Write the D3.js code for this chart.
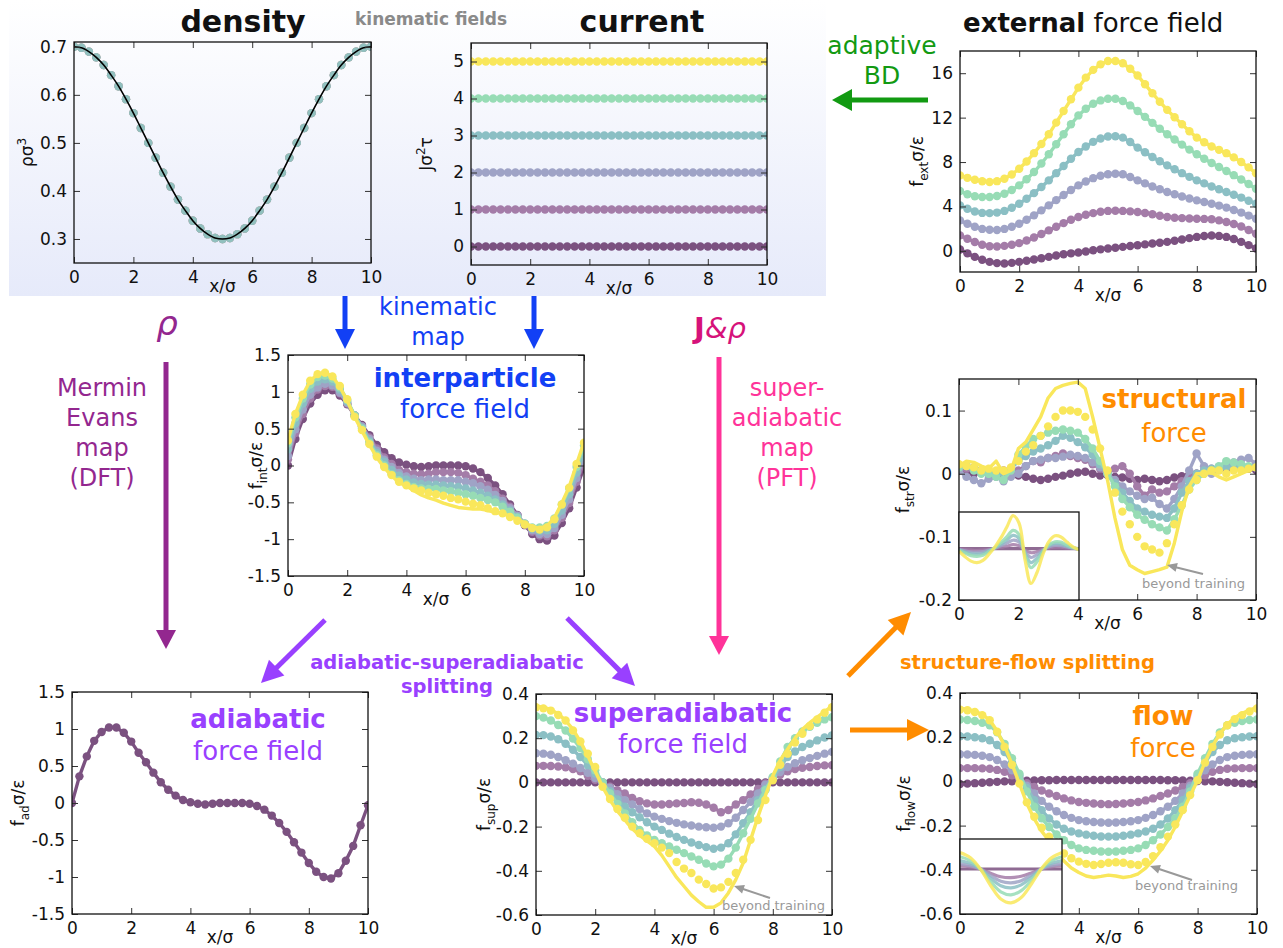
<!DOCTYPE html>
<html><head><meta charset="utf-8">
<script src="https://cdn.jsdelivr.net/npm/d3@7"></script>
<style>body{margin:0;background:#fff}svg{display:block}text{font-family:"DejaVu Sans",sans-serif}</style>
</head><body><svg id="c" width="1283" height="948"></svg>
<script>
// ---------------- DATA ----------------
const xGrid = [0,0.25,0.5,0.75,1,1.25,1.5,1.75,2,2.25,2.5,2.75,3,3.25,3.5,3.75,4,4.25,4.5,4.75,5,5.25,5.5,5.75,6,6.25,6.5,6.75,7,7.25,7.5,7.75,8,8.25,8.5,8.75,9,9.25,9.5,9.75,10];
const xTicks = [0,2,4,6,8,10];
const densityProfile = [0.700,0.698,0.690,0.678,0.662,0.641,0.618,0.591,0.562,0.531,0.500,0.469,0.438,0.409,0.382,0.359,0.338,0.322,0.310,0.302,0.300,0.302,0.310,0.322,0.338,0.359,0.382,0.409,0.438,0.469,0.500,0.531,0.562,0.591,0.618,0.641,0.662,0.678,0.690,0.698,0.700];
const currentLevels = [0,1,2,3,4,5];

const ext0 = [0.12,-0.22,-0.54,-0.80,-0.99,-1.10,-1.14,-1.08,-0.99,-0.89,-0.78,-0.66,-0.54,-0.42,-0.30,-0.22,-0.15,-0.05,0.06,0.14,0.21,0.29,0.36,0.44,0.51,0.59,0.66,0.73,0.81,0.91,1.02,1.15,1.26,1.34,1.38,1.35,1.26,1.07,0.81,0.52,0.21];
const ext1 = [1.40,1.10,0.80,0.55,0.42,0.40,0.45,0.55,0.70,0.93,1.20,1.52,1.85,2.18,2.50,2.80,3.05,3.25,3.40,3.52,3.60,3.62,3.60,3.56,3.50,3.41,3.30,3.17,3.05,2.99,2.95,2.92,2.90,2.88,2.85,2.75,2.60,2.42,2.20,1.88,1.55];
const ext2 = [2.75,2.45,2.18,1.98,1.90,1.88,1.98,2.18,2.45,2.80,3.20,3.65,4.10,4.57,5.03,5.48,5.90,6.25,6.55,6.77,6.90,6.95,6.90,6.65,6.35,6.08,5.80,5.55,5.30,5.10,4.90,4.72,4.55,4.40,4.25,4.08,3.90,3.68,3.45,3.18,2.90];
const ext3 = [4.10,3.80,3.55,3.42,3.40,3.45,3.60,3.88,4.25,4.70,5.20,5.75,6.35,7.00,7.65,8.30,8.90,9.40,9.82,10.12,10.30,10.32,10.20,9.80,9.30,8.88,8.45,8.07,7.70,7.35,7.00,6.67,6.35,6.08,5.80,5.55,5.30,5.05,4.80,4.52,4.25];
const ext4 = [5.40,5.10,4.92,4.85,4.85,4.95,5.15,5.48,5.90,6.45,7.10,7.87,8.70,9.60,10.50,11.40,12.20,12.80,13.25,13.55,13.70,13.70,13.50,13.10,12.60,12.07,11.53,11.00,10.50,10.03,9.57,9.12,8.70,8.30,7.92,7.55,7.20,6.82,6.43,6.02,5.60];
const ext5 = [6.80,6.58,6.40,6.27,6.20,6.28,6.50,6.88,7.40,8.05,8.80,9.62,10.50,11.55,12.60,13.65,14.70,15.60,16.30,16.80,17.10,17.10,16.90,16.40,15.80,15.00,14.20,13.43,12.70,12.03,11.40,10.78,10.20,9.78,9.40,9.10,8.80,8.42,8.00,7.52,7.00];

const fAd = [0.00,0.36,0.63,0.84,0.96,1.02,1.02,0.95,0.83,0.68,0.55,0.41,0.28,0.18,0.10,0.04,0.01,-0.01,-0.02,-0.01,0.00,0.00,0.00,0.00,-0.01,-0.04,-0.09,-0.17,-0.27,-0.39,-0.53,-0.67,-0.81,-0.93,-1.00,-1.02,-0.95,-0.78,-0.58,-0.30,-0.03];

const int1 = [0.08,0.44,0.70,0.91,1.03,1.08,1.07,0.98,0.84,0.68,0.53,0.38,0.23,0.11,0.02,-0.06,-0.09,-0.11,-0.12,-0.11,-0.09,-0.09,-0.09,-0.10,-0.13,-0.18,-0.22,-0.27,-0.35,-0.45,-0.56,-0.68,-0.80,-0.90,-0.95,-0.96,-0.88,-0.71,-0.51,-0.22,0.05];
const int2 = [0.13,0.49,0.76,0.96,1.06,1.11,1.09,0.99,0.85,0.68,0.53,0.36,0.20,0.08,-0.02,-0.10,-0.15,-0.18,-0.20,-0.19,-0.19,-0.20,-0.20,-0.20,-0.22,-0.24,-0.28,-0.33,-0.40,-0.48,-0.58,-0.68,-0.79,-0.88,-0.93,-0.93,-0.85,-0.67,-0.46,-0.17,0.11];
const int3 = [0.22,0.57,0.84,1.04,1.14,1.17,1.14,1.03,0.87,0.68,0.51,0.33,0.17,0.05,-0.06,-0.14,-0.19,-0.23,-0.25,-0.26,-0.26,-0.27,-0.28,-0.29,-0.31,-0.34,-0.37,-0.41,-0.46,-0.53,-0.61,-0.70,-0.79,-0.86,-0.89,-0.88,-0.79,-0.61,-0.39,-0.10,0.18];
const int4 = [0.30,0.65,0.91,1.10,1.20,1.22,1.18,1.06,0.89,0.68,0.50,0.31,0.14,0.00,-0.12,-0.20,-0.25,-0.29,-0.31,-0.32,-0.32,-0.34,-0.35,-0.37,-0.39,-0.41,-0.44,-0.47,-0.50,-0.56,-0.63,-0.71,-0.79,-0.84,-0.84,-0.82,-0.72,-0.53,-0.31,-0.02,0.27];
const int5Dots = [0.34,0.70,0.96,1.15,1.24,1.26,1.21,1.08,0.90,0.66,0.48,0.29,0.12,-0.02,-0.13,-0.22,-0.27,-0.31,-0.34,-0.37,-0.39,-0.41,-0.44,-0.46,-0.49,-0.52,-0.54,-0.58,-0.62,-0.65,-0.70,-0.75,-0.80,-0.85,-0.87,-0.84,-0.73,-0.53,-0.30,0.02,0.31];
const int5Line = [0.35,0.70,0.96,1.15,1.24,1.26,1.21,1.07,0.88,0.66,0.47,0.28,0.11,-0.03,-0.14,-0.23,-0.28,-0.34,-0.40,-0.44,-0.47,-0.51,-0.54,-0.57,-0.58,-0.59,-0.59,-0.61,-0.64,-0.65,-0.69,-0.73,-0.78,-0.83,-0.85,-0.82,-0.71,-0.51,-0.29,0.02,0.32];

const sup0 = [0,0,0,0,0,0,0,0,0,0,0,0,0,0,0,0,0,0,0,0,0,0,0,0,0,0,0,0,0,0,0,0,0,0,0,0,0,0,0,0,0];
const sup1 = [0.075,0.075,0.074,0.072,0.068,0.06,0.05,0.03,0.012,-0.005,-0.02,-0.035,-0.05,-0.07,-0.085,-0.095,-0.10,-0.10,-0.098,-0.095,-0.093,-0.09,-0.092,-0.10,-0.115,-0.135,-0.125,-0.10,-0.08,-0.055,-0.03,-0.005,0.015,0.035,0.05,0.06,0.066,0.07,0.074,0.077,0.078];
const sup2 = [0.132,0.13,0.125,0.115,0.10,0.085,0.065,0.043,0.02,0,-0.025,-0.053,-0.08,-0.10,-0.12,-0.14,-0.155,-0.165,-0.175,-0.183,-0.19,-0.195,-0.20,-0.203,-0.205,-0.20,-0.185,-0.16,-0.125,-0.088,-0.05,-0.01,0.02,0.047,0.07,0.087,0.10,0.11,0.12,0.13,0.138];
const sup3 = [0.215,0.214,0.208,0.195,0.175,0.148,0.115,0.078,0.04,0,-0.04,-0.077,-0.11,-0.135,-0.158,-0.18,-0.20,-0.215,-0.232,-0.247,-0.26,-0.272,-0.283,-0.293,-0.30,-0.295,-0.275,-0.235,-0.185,-0.135,-0.08,-0.03,0.02,0.07,0.115,0.14,0.16,0.175,0.19,0.203,0.213];
const sup4 = [0.300,0.293,0.28,0.26,0.235,0.198,0.155,0.105,0.055,0,-0.05,-0.097,-0.14,-0.18,-0.215,-0.24,-0.26,-0.275,-0.29,-0.305,-0.32,-0.335,-0.35,-0.367,-0.38,-0.372,-0.345,-0.295,-0.23,-0.165,-0.095,-0.035,0.025,0.095,0.16,0.20,0.23,0.252,0.27,0.285,0.295];
const sup5Dots = [0.34,0.335,0.325,0.305,0.28,0.235,0.185,0.13,0.07,-0.02,-0.075,-0.12,-0.16,-0.20,-0.23,-0.255,-0.275,-0.295,-0.32,-0.36,-0.39,-0.41,-0.44,-0.46,-0.48,-0.475,-0.45,-0.41,-0.35,-0.26,-0.17,-0.08,0.01,0.08,0.13,0.18,0.22,0.255,0.285,0.315,0.34];
const sup5Line = [0.345,0.34,0.33,0.31,0.28,0.24,0.185,0.12,0.05,-0.02,-0.08,-0.13,-0.17,-0.21,-0.24,-0.265,-0.29,-0.33,-0.38,-0.43,-0.47,-0.51,-0.54,-0.565,-0.565,-0.545,-0.50,-0.44,-0.365,-0.26,-0.155,-0.06,0.03,0.10,0.15,0.20,0.24,0.27,0.295,0.32,0.345];

const flow0 = [-0.012,-0.01,-0.008,-0.006,-0.004,-0.002,0,0.001,0.002,0.003,0.004,0.005,0.005,0.006,0.006,0.006,0.006,0.006,0.006,0.006,0.006,0.006,0.006,0.006,0.006,0.006,0.006,0.006,0.005,0.005,0.004,0.003,0.002,0.001,0,-0.002,-0.004,-0.006,-0.008,-0.01,-0.012];
const flow1 = [0.060,0.060,0.060,0.059,0.057,0.052,0.043,0.028,0.010,-0.008,-0.025,-0.041,-0.055,-0.066,-0.077,-0.086,-0.093,-0.097,-0.100,-0.102,-0.103,-0.102,-0.100,-0.097,-0.093,-0.086,-0.077,-0.066,-0.055,-0.041,-0.025,-0.008,0.010,0.028,0.043,0.052,0.057,0.059,0.060,0.060,0.060];
const flow2 = [0.123,0.122,0.120,0.116,0.110,0.097,0.077,0.050,0.017,-0.020,-0.055,-0.088,-0.115,-0.135,-0.152,-0.165,-0.175,-0.180,-0.184,-0.186,-0.187,-0.186,-0.184,-0.180,-0.175,-0.165,-0.152,-0.135,-0.115,-0.088,-0.055,-0.020,0.017,0.050,0.077,0.097,0.110,0.116,0.120,0.122,0.123];
const flow3 = [0.204,0.203,0.200,0.195,0.186,0.165,0.133,0.085,0.028,-0.030,-0.085,-0.130,-0.168,-0.195,-0.214,-0.227,-0.235,-0.241,-0.246,-0.249,-0.250,-0.249,-0.246,-0.241,-0.235,-0.227,-0.214,-0.195,-0.168,-0.130,-0.085,-0.030,0.028,0.085,0.133,0.165,0.186,0.195,0.200,0.203,0.204];
const flow4 = [0.280,0.278,0.273,0.265,0.254,0.222,0.170,0.105,0.035,-0.045,-0.115,-0.167,-0.206,-0.240,-0.266,-0.288,-0.303,-0.310,-0.314,-0.317,-0.318,-0.317,-0.314,-0.310,-0.303,-0.288,-0.266,-0.240,-0.206,-0.167,-0.115,-0.045,0.035,0.105,0.170,0.222,0.254,0.265,0.273,0.278,0.280];
const flow5Dots = [0.325,0.322,0.314,0.300,0.277,0.225,0.156,0.075,-0.010,-0.095,-0.160,-0.210,-0.250,-0.292,-0.326,-0.348,-0.363,-0.373,-0.378,-0.374,-0.368,-0.366,-0.368,-0.375,-0.378,-0.365,-0.338,-0.298,-0.250,-0.195,-0.130,-0.062,0.005,0.085,0.156,0.212,0.254,0.282,0.300,0.316,0.330];
const flow5Line = [0.330,0.327,0.318,0.302,0.278,0.228,0.160,0.078,-0.010,-0.100,-0.170,-0.225,-0.270,-0.318,-0.360,-0.392,-0.412,-0.428,-0.435,-0.430,-0.424,-0.428,-0.435,-0.430,-0.418,-0.392,-0.356,-0.315,-0.266,-0.205,-0.135,-0.065,0.005,0.088,0.160,0.215,0.258,0.288,0.308,0.323,0.335];

const str0 = [0.005,0.003,0,0.004,0.002,0,-0.002,0,-0.003,-0.005,-0.008,-0.01,-0.008,-0.005,-0.003,0,0.002,0.003,0,-0.003,-0.002,-0.005,-0.006,-0.008,-0.01,-0.008,-0.01,-0.012,-0.01,-0.006,-0.004,-0.002,0,0.003,0.005,0.006,0.008,0.01,0.01,0.008,0.006];
const str1 = [0.01,0.008,0.01,0.005,0,0.003,0.005,0.002,0.005,0.012,0.02,0.018,0.025,0.028,0.032,0.028,0.025,0.022,0.015,0.008,0,0.008,0.012,0,-0.02,-0.035,-0.025,-0.03,-0.028,-0.02,-0.012,-0.005,0,0.005,0.008,0.01,0.012,0.01,0.012,0.01,0.01];
const str2 = [0.005,-0.005,-0.01,-0.015,-0.008,-0.005,-0.012,-0.005,0,0.012,0.02,0.022,0.025,0.025,0.027,0.03,0.028,0.025,0.018,0.01,0,-0.01,-0.02,-0.028,-0.035,-0.04,-0.038,-0.048,-0.055,-0.04,-0.02,0.005,0.032,0.012,0,0.008,0.015,0.018,0.022,0.025,0.015];
const str3 = [0.01,0.012,0.008,0.005,0,-0.003,0,0.008,0.02,0.028,0.035,0.04,0.045,0.052,0.06,0.057,0.05,0.042,0.03,0.015,0,-0.015,-0.03,-0.043,-0.055,-0.06,-0.065,-0.068,-0.07,-0.055,-0.03,-0.012,0,0.005,0.008,0.01,0.01,0.012,0.01,0.01,0.01];
const str4 = [0.01,0.012,0.005,0,0,-0.005,-0.01,0.005,0.03,0.043,0.055,0.06,0.065,0.068,0.07,0.068,0.065,0.055,0.04,0.02,0,-0.02,-0.04,-0.053,-0.065,-0.073,-0.08,-0.085,-0.09,-0.072,-0.05,-0.025,-0.01,0,0.005,0.012,0.02,0.018,0.015,0.012,0.01];
const str5Line = [0.012,0.02,0.018,0.012,0.008,0.02,0,0.005,0.04,0.05,0.07,0.09,0.12,0.135,0.14,0.143,0.145,0.135,0.09,0.04,-0.01,-0.07,-0.12,-0.145,-0.152,-0.158,-0.155,-0.152,-0.148,-0.11,-0.06,-0.02,0,0,0.002,-0.005,-0.01,-0.005,0,0.005,0.01];
const str5Dots = [0.015,0.012,0.01,0.005,0.008,0.005,0.005,0.01,0.02,0.035,0.045,0.06,0.075,0.09,0.1,0.1,0.098,0.09,0.07,0.04,0.005,-0.03,-0.06,-0.08,-0.1,-0.115,-0.12,-0.125,-0.11,-0.08,-0.05,-0.025,-0.01,0,0.005,0.005,0,0.005,0.005,0.008,0.01];

// insets
const strInsetT = [0,0.05,0.1,0.15,0.2,0.25,0.3,0.35,0.4,0.45,0.5,0.55,0.6,0.65,0.7,0.75,0.8,0.85,0.9,0.95,1];
const strInset0 = [0,0,0,0,0,0,0,0,0,0,0,0,0,0,0,0,0,0,0,0,0];
const strInset1 = [-0.01,-0.03,-0.04,-0.05,-0.04,-0.02,0.01,0.04,0.07,0.11,0.08,-0.04,-0.11,-0.08,-0.02,0.02,0.04,0.04,0.02,0.01,0];
const strInset2 = [-0.02,-0.06,-0.09,-0.1,-0.08,-0.04,0.01,0.08,0.15,0.23,0.18,-0.08,-0.24,-0.16,-0.04,0.05,0.09,0.08,0.05,0.01,-0.01];
const strInset3 = [-0.03,-0.09,-0.14,-0.15,-0.13,-0.06,0.02,0.12,0.24,0.36,0.28,-0.12,-0.38,-0.26,-0.06,0.08,0.14,0.13,0.07,0.02,-0.01];
const strInset4 = [-0.04,-0.12,-0.19,-0.21,-0.18,-0.08,0.03,0.17,0.33,0.5,0.39,-0.17,-0.52,-0.36,-0.08,0.11,0.19,0.18,0.1,0.03,-0.02];
const strInset5 = [-0.07,-0.22,-0.34,-0.38,-0.32,-0.15,0.05,0.3,0.6,0.9,0.7,-0.3,-0.95,-0.65,-0.15,0.2,0.35,0.32,0.18,0.05,-0.03];
const flowInsetT = [0,0.1,0.2,0.3,0.4,0.5,0.6,0.7,0.8,0.9,1];
const flowInset0 = [0,0,0,0,0,0,0,0,0,0,0];
const flowInset1 = [0.11,0.07,0,-0.14,-0.26,-0.29,-0.24,-0.13,0,0.07,0.11];
const flowInset2 = [0.18,0.12,0,-0.22,-0.41,-0.46,-0.39,-0.2,0.01,0.12,0.18];
const flowInset3 = [0.28,0.19,0,-0.31,-0.56,-0.63,-0.53,-0.28,0.01,0.19,0.28];
const flowInset4 = [0.41,0.28,0,-0.42,-0.76,-0.86,-0.72,-0.38,0.02,0.28,0.41];
const flowInset5 = [0.55,0.38,0,-0.55,-1.0,-1.13,-0.95,-0.5,0.02,0.38,0.55];

// ---------------- STYLE ----------------
const pal = ["#7b5180","#a47ca8","#9fa3c6","#8bbfc4","#97dcb5","#f9e75b"];
const densityDrawOrder = [5,0,1,2,4,3];
const C = {blue:"#1240f5", purple:"#93278f", pink:"#ff3399", magenta:"#d6127a", violet:"#9940ff", orange:"#ff8c00", green:"#129a12", gray:"#999"};

const svg = d3.select("#c");
const defs = svg.append("defs");
const grad = defs.append("linearGradient").attr("id","bg").attr("x1",0).attr("y1",0).attr("x2",0).attr("y2",1);
grad.append("stop").attr("offset","0%").attr("stop-color","#ffffff");
grad.append("stop").attr("offset","100%").attr("stop-color","#e6eafa");
svg.append("rect").attr("x",9).attr("y",0).attr("width",817).attr("height",296).attr("fill","url(#bg)");

function ylabel(t, main, sub, rest, sup) {
  t.append("tspan").text(main);
  if (sub) { t.append("tspan").attr("font-size",12).attr("dy",5).text(sub); t.append("tspan").attr("dy",-5).text(rest); }
  if (sup) { t.append("tspan").attr("font-size",12).attr("dy",-7).text(sup); if (rest && !sub) t.append("tspan").attr("dy",7).text(rest); }
}

function panel(p) {
  const x = d3.scaleLinear().domain([0,10]).range([p.l,p.r]);
  const y = d3.scaleLinear().domain(p.yd).range([p.b,p.t]);
  const id = "clip_"+p.name;
  defs.append("clipPath").attr("id",id).append("rect").attr("x",p.l).attr("y",p.t).attr("width",p.r-p.l).attr("height",p.b-p.t);
  const g = svg.append("g");
  const plot = g.append("g").attr("clip-path",`url(#${id})`);
  const line = d3.line().x(d=>x(d[0])).y(d=>y(d[1]));
  p.series.forEach((s,k)=>{
    const col = pal[s.c];
    if (s.line) plot.append("path").datum(xGrid.map((xv,i)=>[xv,s.line[i]])).attr("d",line)
      .attr("fill","none").attr("stroke",col).attr("stroke-width",3.4).attr("stroke-linejoin","round").attr("opacity",s.op||1);
    if (s.dots) plot.append("g").selectAll("circle").data(xGrid.map((xv,i)=>[xv,s.dots[i]])).join("circle")
      .attr("cx",d=>x(d[0])).attr("cy",d=>y(d[1])).attr("r",4.2).attr("fill",col).attr("opacity",s.op||1);
  });
  if (p.extra) p.extra(plot,x,y);
  const ax = (gen,tr)=>{ const a=g.append("g").attr("transform",tr).call(gen); a.select(".domain").remove();
    a.selectAll("line").attr("stroke","#333").attr("stroke-width",1);
    a.selectAll("text").attr("font-family","DejaVu Sans").attr("font-size",17).attr("fill","#111"); return a; };
  ax(d3.axisBottom(x).tickValues(xTicks).tickSizeInner(-6).tickSizeOuter(0).tickPadding(8).tickFormat(d=>String(d)),`translate(0,${p.b})`);
  ax(d3.axisTop(x).tickValues(xTicks).tickSizeInner(-6).tickSizeOuter(0).tickFormat(""),`translate(0,${p.t})`);
  ax(d3.axisLeft(y).tickValues(p.yt).tickSizeInner(-6).tickSizeOuter(0).tickPadding(7).tickFormat(p.fmt||(d=>String(d))),`translate(${p.l},0)`);
  ax(d3.axisRight(y).tickValues(p.yt).tickSizeInner(-6).tickSizeOuter(0).tickFormat(""),`translate(${p.r},0)`);
  g.append("rect").attr("x",p.l).attr("y",p.t).attr("width",p.r-p.l).attr("height",p.b-p.t)
    .attr("fill","none").attr("stroke","#111").attr("stroke-width",1.3);
  if (p.inset) p.inset(g);
  g.append("text").attr("x",(p.l+p.r)/2).attr("y",p.b+29).attr("text-anchor","middle").attr("font-size",17).attr("fill","#111").text("x/σ");
  const yl = g.append("text").attr("transform",`translate(${p.ylx},${(p.t+p.b)/2}) rotate(-90)`)
    .attr("text-anchor","middle").attr("font-size",17).attr("fill","#111");
  p.ylab(yl);
}

function mk(arrs, op){ return arrs.map((a,k)=>({c:k, line:a, dots:a, op:op})); }

// density
panel({name:"dens", l:74, r:371, t:42, b:263, yd:[0.25,0.71], yt:[0.3,0.4,0.5,0.6,0.7], fmt:d3.format(".1f"), ylx:33,
  series: densityDrawOrder.map(k=>({c:k, dots:densityProfile, op:0.6})),
  extra:(plot,x,y)=>{ plot.append("path").datum(xGrid.map((xv,i)=>[xv,densityProfile[i]]))
     .attr("d",d3.line().x(d=>x(d[0])).y(d=>y(d[1])).curve(d3.curveMonotoneX)).attr("fill","none").attr("stroke","#000").attr("stroke-width",1.6); },
  ylab:t=>ylabel(t,"ρσ",null,null,"3")});
// current
panel({name:"cur", l:471, r:767, t:43, b:265, yd:[-0.5,5.5], yt:[0,1,2,3,4,5], ylx:432,
  series: currentLevels.map((lv,k)=>{ const arr = xGrid.map(()=>lv); return {c:k, line:arr, dots:arr}; }),
  ylab:t=>ylabel(t,"Jσ",null,"τ","2")});
// external
panel({name:"ext", l:960, r:1256, t:51, b:272, yd:[-1.9,18], yt:[0,4,8,12,16], ylx:923,
  series: mk([ext0,ext1,ext2,ext3,ext4,ext5]),
  ylab:t=>ylabel(t,"f","ext","σ/ε")});
// interparticle
panel({name:"int", l:288, r:584, t:355, b:576, yd:[-1.5,1.5], yt:[-1.5,-1,-0.5,0,0.5,1,1.5], ylx:262,
  series: [...mk([fAd,int1,int2,int3,int4]), {c:5, line:int5Line, dots:int5Dots}],
  ylab:t=>ylabel(t,"f","int","σ/ε")});
// adiabatic
panel({name:"ad", l:72, r:368, t:692, b:914, yd:[-1.5,1.5], yt:[-1.5,-1,-0.5,0,0.5,1,1.5], ylx:24,
  series: [{c:0, line:fAd, dots:fAd}],
  ylab:t=>ylabel(t,"f","ad","σ/ε")});
// superadiabatic
panel({name:"sup", l:536, r:832, t:694, b:915, yd:[-0.6,0.4], yt:[-0.6,-0.4,-0.2,0,0.2,0.4], ylx:490,
  series: [...mk([sup0,sup1,sup2,sup3,sup4]), {c:5, line:sup5Line, dots:sup5Dots}],
  ylab:t=>ylabel(t,"f","sup","σ/ε")});

function insetLines(g, box, tArr, arrs, yd){
  const ix = d3.scaleLinear().domain([0,1]).range([box.l,box.r]);
  const iy = d3.scaleLinear().domain(yd).range([box.b,box.t]);
  g.append("rect").attr("x",box.l).attr("y",box.t).attr("width",box.r-box.l).attr("height",box.b-box.t).attr("fill","#fff");
  const cid = "ic"+box.l;
  defs.append("clipPath").attr("id",cid).append("rect").attr("x",box.l).attr("y",box.t).attr("width",box.r-box.l).attr("height",box.b-box.t);
  const ig = g.append("g").attr("clip-path",`url(#${cid})`);
  const ln = d3.line().x(d=>ix(d[0])).y(d=>iy(d[1])).curve(d3.curveCatmullRom);
  arrs.forEach((a,k)=>ig.append("path").datum(tArr.map((t,i)=>[t,a[i]])).attr("d",ln).attr("fill","none")
    .attr("stroke",pal[k]).attr("stroke-width",3.2).attr("opacity",0.85));
  g.append("rect").attr("x",box.l).attr("y",box.t).attr("width",box.r-box.l).attr("height",box.b-box.t).attr("fill","none").attr("stroke","#111").attr("stroke-width",1.3);
}

// structural
panel({name:"str", l:959, r:1256, t:379, b:600, yd:[-0.2,0.15], yt:[-0.2,-0.1,0,0.1], ylx:909,
  series: [...mk([str0,str1,str2,str3,str4]), {c:5, line:str5Line, dots:str5Dots}],
  inset:g=>insetLines(g,{l:959,r:1079,t:512,b:600},strInsetT,[strInset0,strInset1,strInset2,strInset3,strInset4,strInset5],[-1.4,1]),
  ylab:t=>ylabel(t,"f","str","σ/ε")});
// flow
panel({name:"flow", l:960, r:1257, t:693, b:914, yd:[-0.6,0.4], yt:[-0.6,-0.4,-0.2,0,0.2,0.4], ylx:910,
  series: [...mk([flow0,flow1,flow2,flow3,flow4]), {c:5, line:flow5Line, dots:flow5Dots}],
  inset:g=>insetLines(g,{l:960,r:1062,t:839,b:914},flowInsetT,[flowInset0,flowInset1,flowInset2,flowInset3,flowInset4,flowInset5],[-1.5,1]),
  ylab:t=>ylabel(t,"f","flow","σ/ε")});

// ---------------- ARROWS ----------------
function arrow(x1,y1,x2,y2,col,w,hl,hw){
  const dx=x2-x1, dy=y2-y1, L=Math.hypot(dx,dy), ux=dx/L, uy=dy/L;
  const bx=x2-ux*hl, by=y2-uy*hl;
  svg.append("line").attr("x1",x1).attr("y1",y1).attr("x2",bx+ux*2).attr("y2",by+uy*2).attr("stroke",col).attr("stroke-width",w);
  svg.append("path").attr("d",`M${x2},${y2}L${bx-uy*hw/2},${by+ux*hw/2}L${bx+uy*hw/2},${by-ux*hw/2}Z`).attr("fill",col);
}
arrow(928,100,832,100,C.green,5,20,22);
arrow(345,296,345,349,C.blue,5,20,20);
arrow(534,296,534,349,C.blue,5,20,20);
arrow(166,362,166,649,C.purple,5,19,20);
arrow(719,357,719,655,C.pink,5,19,20);
arrow(325,620,261,683,C.violet,5,22,22);
arrow(567,618,635,686,C.violet,5,22,22);
arrow(848,676,911,612,C.orange,5,22,22);
arrow(850,730,929,730,C.orange,5,22,22);
arrow(1203,574,1167,565,"#999",2,10,9);
arrow(770,898,734,886,"#999",2,10,9);
arrow(1192,880,1150,866,"#999",2,10,9);

// ---------------- TEXT ----------------
function txt(x,y,s,o){ const t=svg.append("text").attr("x",x).attr("y",y).text(s)
  .attr("text-anchor",o.a||"middle").attr("font-size",o.s||24).attr("fill",o.f||"#111");
  if(o.b) t.attr("font-weight","bold"); if(o.ff) t.attr("font-family",o.ff); if(o.i) t.attr("font-style","italic"); return t; }
txt(243,32,"density",{s:30,b:1});
txt(355,25,"kinematic fields",{a:"start",s:17,b:1,f:"#8a8a8a"});
txt(642,32,"current",{s:30,b:1});
const et = svg.append("text").attr("x",963).attr("y",32).attr("font-size",26).attr("fill","#111");
et.append("tspan").attr("font-weight","bold").text("external");
et.append("tspan").text(" force field");
txt(882,54,"adaptive",{s:25,f:C.green});
txt(882,84,"BD",{s:25,f:C.green});
txt(438,315,"kinematic",{s:24,f:C.blue});
txt(438,345,"map",{s:24,f:C.blue});
txt(465,387,"interparticle",{s:26,b:1,f:C.blue});
txt(465,418,"force field",{s:26,f:C.blue});
txt(167,335,"ρ",{s:34,f:C.purple,ff:"Liberation Serif",i:1});
["Mermin","Evans","map","(DFT)"].forEach((s,i)=>txt(102,396+30*i,s,{s:24,f:C.purple}));
const jr = svg.append("text").attr("x",720).attr("y",338).attr("text-anchor","middle").attr("font-size",29).attr("fill",C.magenta).attr("font-family","Liberation Serif");
jr.append("tspan").attr("font-weight","bold").text("J");
jr.append("tspan").attr("font-style","italic").text("&ρ");
["super-","adiabatic","map","(PFT)"].forEach((s,i)=>txt(787,396+30*i,s,{s:24,f:C.pink}));
txt(447,669,"adiabatic-superadiabatic",{s:19.5,b:1,f:C.violet});
txt(447,693,"splitting",{s:19.5,b:1,f:C.violet});
txt(258,728,"adiabatic",{s:26,b:1,f:C.violet});
txt(258,760,"force field",{s:26,f:C.violet});
txt(683,722,"superadiabatic",{s:26,b:1,f:C.violet});
txt(683,753,"force field",{s:26,f:C.violet});
txt(900,669,"structure-flow splitting",{a:"start",s:19.5,b:1,f:C.orange});
txt(1174,408,"structural",{s:26,b:1,f:C.orange});
txt(1174,442,"force",{s:26,f:C.orange});
txt(1163,725,"flow",{s:26,b:1,f:C.orange});
txt(1163,757,"force",{s:26,f:C.orange});
txt(1142,588,"beyond training",{a:"start",s:13,f:"#999"});
txt(722,910,"beyond training",{a:"start",s:13,f:"#999"});
txt(1135,890,"beyond training",{a:"start",s:13,f:"#999"});
</script></body></html>
